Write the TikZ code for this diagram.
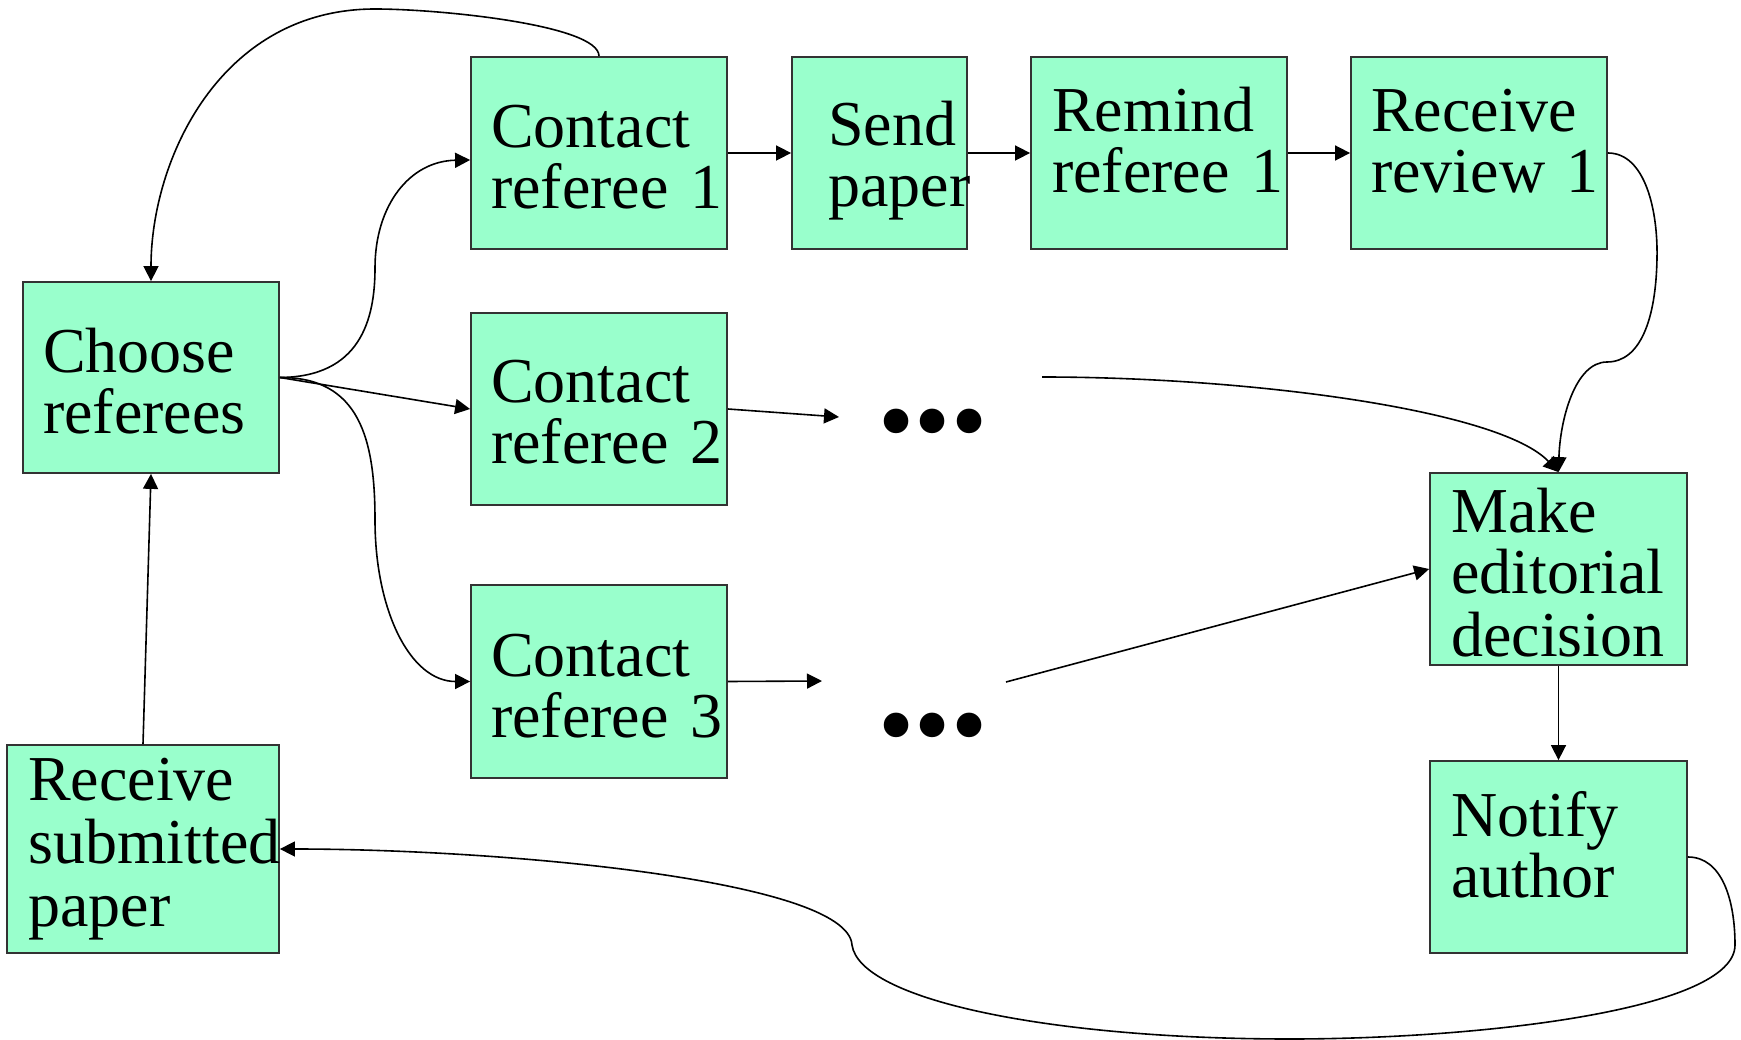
\documentclass[tikz,border=0pt]{standalone}
\usepackage{fontspec}
\setmainfont{Liberation Serif}
\usetikzlibrary{arrows.meta}

\definecolor{boxfill}{HTML}{99FFCC}
\definecolor{boxline}{HTML}{333333}

% caption font: 64pt with a tighter word space
\newcommand{\capfont}[1]{\fontsize{64}{#1}\selectfont\spaceskip=9pt\relax}

\begin{document}
\begin{tikzpicture}[x=1pt,y=-1pt,
  box/.style={draw=boxline, line width=1.8pt, fill=boxfill, inner sep=0pt,
              minimum width=256pt, minimum height=192pt},
  lbl/.style={anchor=base west, inner sep=0pt, text width=300pt, align=left,
              font=\capfont{61}},
  ellip/.style={inner sep=0pt, font=\fontsize{103}{103}\selectfont},
  link/.style={line width=1.6pt, -{Triangle[length=15pt,width=15pt]}}
]
\useasboundingbox[fill=white] (0,0) rectangle (1741,1040);

% process boxes
\node[box] (c1) at (599,153) {};
\node[box, minimum width=175pt] (sp) at (879.5,153) {};
\node[box] (rm) at (1159,153) {};
\node[box] (rr) at (1479,153) {};
\node[box, minimum height=191pt] (ch) at (151,377.5) {};
\node[box] (c2) at (599,409) {};
\node[box, minimum height=193pt] (c3) at (599,681.5) {};
\node[box, minimum width=272pt, minimum height=208pt] (rs) at (143,849) {};
\node[box, minimum width=257pt] (md) at (1558.5,569) {};
\node[box, minimum width=257pt] (na) at (1558.5,857) {};

% box captions
\node[lbl] (c1t) at (491,148) {Contact\\referee 1};
\node[lbl] (spt) at (828,146) {Send\\paper};
\node[lbl] (rmt) at (1052,132) {Remind\\referee 1};
\node[lbl] (rrt) at (1371,132) {Receive\\review 1};
\node[lbl] (cht) at (43,373) {Choose\\referees};
\node[lbl] (c2t) at (491,403) {Contact\\referee 2};
\node[lbl] (c3t) at (491,676) {Contact\\referee 3};
\node[lbl, font=\capfont{63}] (rst) at (28,800) {Receive\\submitted\\paper};
\node[lbl, font=\capfont{62}] (mdt) at (1451,532) {Make\\editorial\\decision};
\node[lbl] (nat) at (1451,836) {Notify\\author};

% ellipses standing for the remaining steps
\node[ellip] (dotsA) at (933,432) {•••};
\node[ellip] (dotsB) at (933,736) {•••};
\coordinate (dAin) at (839,417);
\coordinate (dAout) at (1042,377);
\coordinate (dBin) at (822,681);
\coordinate (dBout) at (1006,682);

% chain for referee 1
\draw[link] (c1) -- (sp);
\draw[link] (sp) -- (rm);
\draw[link] (rm) -- (rr);

% fan-out from choosing referees
\draw[link] (ch.east) .. controls (360,377) and (375,320) .. (375,268)
            .. controls (375,205) and (410,161) .. ([yshift=-7pt]c1.west);
\draw[link] (ch.east) -- (c2.west);
\draw[link] (ch.east) .. controls (360,377) and (375,440) .. (375,520)
            .. controls (375,610) and (410,681.5) .. (c3.west);

% referee 1 loops back to choosing
\draw[link] (c1.north) .. controls (599,25) and (440,9) .. (375,9)
            .. controls (220,9) and (151,160) .. (ch.north);

% submission feeds the choice
\draw[link] (rs.north) -- (ch.south);

% referees 2 and 3
\draw[link] (c2.east) -- (dAin);
\draw[link] (c3.east) -- (dBin);

% reviews converge on the decision
\draw[link] (rr.east) .. controls (1645,153) and (1658,210) .. (1657,258)
            .. controls (1656,320) and (1640,362) .. (1607,362)
            .. controls (1575,362) and (1560,420) .. (md.north);
\draw[link] (dAout) .. controls (1250,377) and (1500,410) .. (md.north);
\draw[link] (dBout) -- (md.west);

% decision and notification
\draw[link] (md.south) -- (na.north);
\draw[link] (na.east) .. controls (1722,857) and (1735,900) .. (1735,945)
            .. controls (1735,1010) and (1480,1039) .. (1290,1039)
            .. controls (1050,1039) and (860,1000) .. (852,945)
            .. controls (848,880) and (500,849) .. (rs.east);
\end{tikzpicture}
\end{document}
